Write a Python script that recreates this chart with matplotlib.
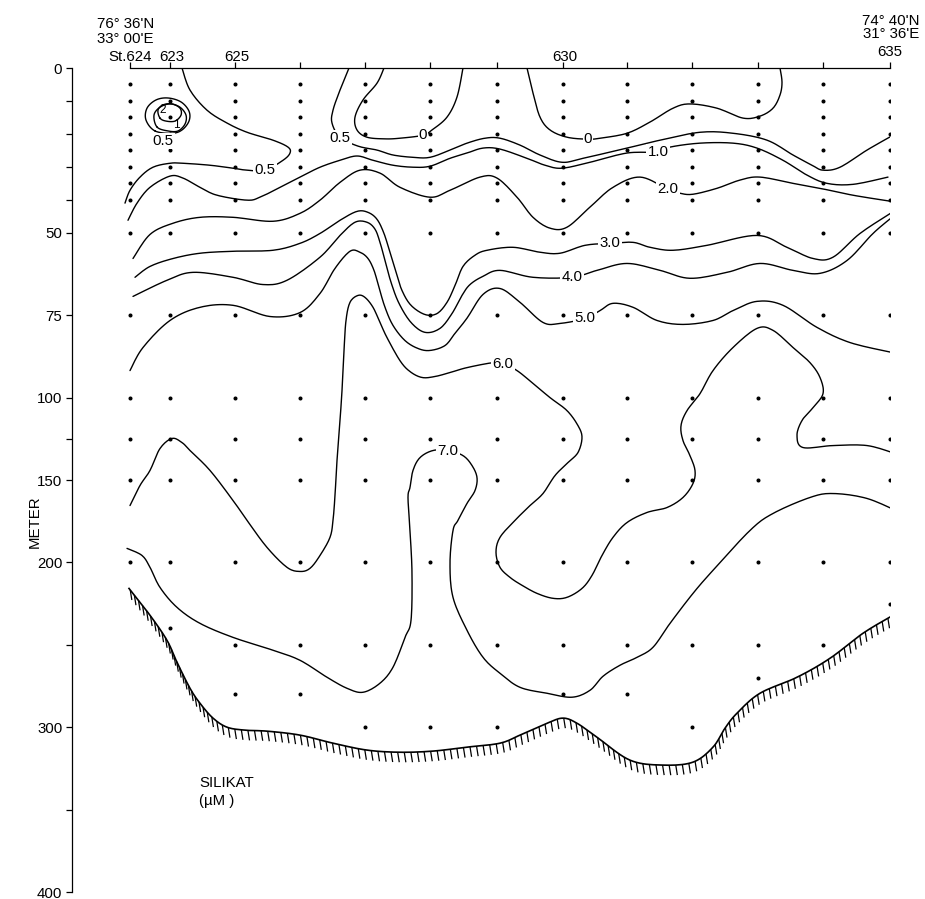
import numpy as np
import matplotlib
matplotlib.use("Agg")
import matplotlib.pyplot as plt
from matplotlib.collections import LineCollection
from matplotlib.transforms import blended_transform_factory

plt.rcParams["font.family"] = ["Liberation Sans", "DejaVu Sans"]
FS = 10.8

# ---------------------------------------------------------------- data
# stations along the section (west -> east) and their along-track distance
stations = ["624", "623", "625", "626", "627", "628", "629",
            "630", "631", "632", "633", "634", "635"]
station_dist = [0, 40, 105, 170, 235, 300, 367, 433, 497, 562, 628, 693, 760]

# sampling depths (m) common to every station, plus the deeper bottles
sample_depths = [5, 10, 15, 20, 25, 30, 35, 40, 50, 75, 100, 125, 150, 200]
deep_samples = {
    "624": [], "623": [240], "625": [250, 280], "626": [250, 280],
    "627": [250, 300], "628": [250, 300], "629": [250, 300],
    "630": [250, 280], "631": [250, 280], "632": [250, 300],
    "633": [250, 270], "634": [250], "635": [225],
}

# sea floor
bottom_dist = [-1, 20, 37, 47, 60, 70, 83, 97, 115, 137, 170, 203, 237, 270,
               303, 337, 370, 390, 417, 433, 447, 467, 500, 533, 563, 583,
               595, 607, 630, 667, 700, 733, 763]
bottom_depth = [215.8, 232.1, 247.3, 260.6, 276.4, 285.5, 294.5, 300.0, 301.8,
                302.4, 304.8, 309.7, 313.9, 315.2, 314.5, 312.1, 309.7, 304.8,
                297.6, 294.5, 297.6, 306.1, 320.0, 323.0, 321.2, 312.1, 300.6,
                291.5, 279.4, 269.7, 258.2, 243.0, 232.1]

# silicate isolines (uM): (distance, depth) pairs
iso_0_west = [(254, 0), (247, 4.6), (233, 9.7), (225, 14.9), (227, 18.8),
              (237, 21.0), (255, 21.5), (270, 21.3), (293, 20.4), (302, 18.8),
              (317, 14.9), (327, 8.8), (333, 0)]
iso_0_east = [(397, 0), (403, 7.6), (410, 14.9), (420, 18.8), (437, 21.0),
              (458, 21.6), (470, 21.3), (497, 19.8), (520, 16.4), (543, 12.2),
              (560, 10.9), (587, 12.2), (613, 15.2), (630, 14.6), (643, 12.2),
              (650, 8.2), (652, 4.3), (650, 0)]
iso_05_west = [(52, 0), (60, 6.7), (77, 12.8), (97, 16.7), (117, 19.5),
               (143, 21.9), (158, 24.0), (160, 25.8), (153, 28.0), (135, 31.0),
               (117, 31.0), (103, 30.4), (80, 29.5), (53, 28.9), (40, 28.9),
               (23, 30.1), (10, 33.1), (0, 37.1), (-5, 41.0)]
iso_05_east = [(219, 0), (210, 6.7), (203, 12.8), (202, 16.7), (210, 21.0),
               (228, 23.7), (247, 24.9), (263, 26.4), (283, 27.1), (300, 27.1),
               (320, 24.9), (337, 22.8), (355, 21.3), (370, 21.3), (390, 23.4),
               (410, 26.4), (432, 28.6), (453, 27.4), (497, 24.3), (530, 21.9),
               (570, 19.5), (603, 19.8), (637, 21.9), (663, 26.4), (682, 29.5),
               (693, 31.0), (710, 30.1), (737, 24.9), (763, 20.4)]
iso_05_patch = [(25, 19.1), (16, 15.8), (17, 12.2), (26, 9.7), (38, 9.1),
                (51, 10.3), (59, 13.1), (59, 16.1), (52, 18.8), (42, 19.8)]
iso_1_patch = [(27, 17.9), (24, 14.3), (30, 11.9), (40, 10.9), (50, 11.9),
               (56, 14.3), (55, 17.0), (48, 19.1), (38, 19.1)]
iso_2_patch = [(30, 15.2), (28, 12.8), (33, 11.2), (42, 10.9), (50, 12.2),
               (51, 14.3), (45, 16.1), (36, 16.1)]
iso_1 = [(-2, 46.2), (7, 41.0), (20, 36.2), (40, 32.8), (53, 33.4), (70, 36.2),
         (87, 38.6), (117, 40.1), (130, 39.2), (150, 36.2), (170, 33.1),
         (190, 30.1), (210, 28.0), (227, 26.7), (243, 28.0), (263, 29.5),
         (283, 30.1), (300, 29.8), (320, 27.4), (337, 25.8), (353, 24.3),
         (370, 24.6), (397, 27.4), (415, 29.5), (432, 30.4), (460, 28.6),
         (497, 25.8), (528, 25.5), (540, 24.0), (570, 22.8), (603, 22.8),
         (627, 24.3), (653, 28.0), (677, 32.5), (697, 35.0), (723, 35.3),
         (758, 33.1)]
iso_2 = [(3, 57.8), (20, 50.5), (43, 47.1), (70, 45.3), (103, 45.3),
         (143, 46.5), (170, 44.1), (190, 40.1), (210, 34.7), (230, 31.0),
         (250, 31.9), (270, 36.2), (300, 39.2), (320, 37.1), (350, 33.1),
         (367, 33.4), (387, 39.2), (403, 45.3), (420, 48.6), (437, 48.3),
         (460, 42.2), (483, 36.2), (510, 33.1), (538, 36.8), (550, 38.0),
         (563, 38.3), (587, 36.5), (610, 34.0), (630, 33.1), (663, 35.0),
         (690, 36.5), (723, 38.6), (760, 40.4)]
iso_3 = [(5, 63.5), (20, 60.2), (43, 57.8), (70, 56.2), (103, 55.6),
         (143, 55.3), (170, 53.2), (190, 50.2), (210, 46.2), (227, 43.5),
         (238, 43.8), (247, 45.9), (254, 50.2), (260, 56.0), (266, 62.0),
         (272, 67.5), (281, 72.0), (295, 74.8), (307, 74.5), (317, 71.1),
         (325, 66.0), (333, 60.2), (345, 56.8), (357, 55.3), (383, 54.4),
         (410, 55.9), (430, 56.2), (455, 53.8), (480, 53.2), (503, 52.9),
         (520, 54.4), (543, 55.3), (577, 53.8), (627, 50.8), (657, 54.4),
         (683, 57.8), (703, 57.4), (730, 50.2), (762, 43.8)]
iso_4 = [(3, 69.3), (37, 64.4), (63, 62.0), (103, 63.5), (133, 65.7),
         (157, 64.4), (190, 57.4), (210, 50.8), (225, 46.8), (237, 46.8),
         (245, 48.9), (250, 52.9), (255, 58.4), (261, 65.0), (269, 71.4),
         (281, 77.2), (295, 80.2), (310, 79.0), (322, 74.5), (332, 69.0),
         (340, 65.7), (353, 63.2), (370, 61.4), (403, 63.5), (442, 63.5),
         (467, 61.4), (497, 59.3), (530, 61.4), (560, 63.8), (597, 62.0),
         (630, 59.3), (663, 61.4), (690, 62.3), (717, 58.4), (743, 50.2),
         (762, 45.3)]
iso_5 = [(0, 91.8), (13, 84.8), (40, 76.6), (70, 72.6), (103, 72.0),
         (140, 75.4), (170, 74.2), (190, 68.4), (205, 60.8), (220, 55.6),
         (230, 55.9), (238, 57.8), (244, 61.4), (249, 66.6), (255, 72.6),
         (263, 78.1), (275, 82.7), (288, 85.1), (300, 85.7), (315, 84.2),
         (325, 80.5), (337, 75.9), (353, 68.7), (370, 66.9), (390, 71.1),
         (413, 77.2), (430, 77.5), (455, 76.0), (470, 73.6), (483, 71.4),
         (503, 72.6), (527, 76.6), (553, 77.8), (583, 76.6), (603, 73.6),
         (627, 70.8), (653, 72.0), (687, 78.7), (720, 83.3), (762, 86.3)]
iso_6 = [(0, 165.5), (10, 153.3), (20, 144.2), (30, 130.9), (42, 124.8),
         (52, 127.3), (60, 132.1), (80, 144.2), (103, 162.4), (117, 174.5),
         (137, 190.9), (157, 203.0), (170, 205.5), (180, 203.6), (190, 195.8),
         (200, 184.8), (203, 174.5), (205, 159.4), (207, 138.2), (210, 113.9),
         (212, 97.9), (214, 85.7), (216, 76.6), (220, 71.1), (228, 69.0),
         (235, 69.6), (243, 72.6), (250, 77.2), (257, 81.8), (270, 88.8),
         (280, 92.1), (292, 93.9), (305, 93.6), (320, 92.4), (337, 90.9),
         (363, 89.4), (373, 89.7), (387, 91.8), (403, 95.7), (420, 100.0),
         (437, 107.9), (448, 117.0), (452, 124.2), (448, 133.3), (438, 139.4),
         (425, 147.3), (413, 158.2), (400, 165.5), (385, 174.5), (370, 184.8),
         (366, 193.9), (370, 203.0), (380, 209.1), (392, 213.9), (407, 218.8),
         (423, 221.8), (437, 221.2), (452, 215.8), (462, 207.9), (472, 195.8),
         (483, 184.8), (497, 175.8), (517, 169.7), (537, 166.7), (553, 160.6),
         (563, 152.1), (565, 144.2), (560, 135.2), (553, 126.1), (551, 117.0),
         (557, 107.9), (570, 98.8), (583, 91.8), (603, 84.8), (627, 79.0),
         (643, 79.6), (663, 84.8), (680, 89.4), (690, 93.9), (693, 98.8),
         (683, 106.1), (672, 113.9), (667, 123.0), (673, 130.3), (703, 129.1),
         (737, 129.1), (765, 133.9)]
iso_7 = [(-3, 191.5), (12, 195.8), (20, 203.0), (30, 215.2), (47, 227.3),
         (70, 237.0), (103, 245.5), (143, 253.3), (170, 259.4), (197, 269.7),
         (217, 276.4), (233, 278.8), (250, 273.3), (263, 263.6), (275, 245.5),
         (281, 235.2), (282, 206.7), (280, 180.6), (278, 160.6), (280, 154.5),
         (283, 144.2), (290, 136.4), (303, 132.1), (318, 132.1), (333, 135.2),
         (342, 141.2), (347, 148.5), (345, 156.4), (337, 164.2), (328, 174.5),
         (323, 180.6), (320, 200.6), (323, 221.2), (337, 241.2), (353, 257.6),
         (370, 267.3), (390, 275.8), (417, 279.4), (442, 281.8), (460, 277.6),
         (473, 269.1), (490, 262.4), (507, 257.6), (523, 251.5), (540, 237.0),
         (563, 218.8), (583, 204.8), (620, 180.6), (643, 170.3), (680, 160.6),
         (703, 158.2), (737, 161.2), (770, 169.7)]

# (value, path, closed, label anchor)
isolines = [
    (0.0, iso_0_west, False, (293, 20.4)),
    (0.0, iso_0_east, False, (458, 21.6)),
    (0.5, iso_05_west, False, (135, 31.0)),
    (0.5, iso_05_east, False, (210, 21.3)),
    (0.5, iso_05_patch, True, (33, 22.2)),
    (1.0, iso_1_patch, True, None),
    (2.0, iso_2_patch, True, None),
    (1.0, iso_1, False, (528, 25.5)),
    (2.0, iso_2, False, (538, 36.8)),
    (3.0, iso_3, False, (480, 53.2)),
    (4.0, iso_4, False, (442, 63.5)),
    (5.0, iso_5, False, (455, 75.7)),
    (6.0, iso_6, False, (373, 89.7)),
    (7.0, iso_7, False, (318, 132.1)),
]

# ---------------------------------------------------------------- scale
def fwd(d):
    d = np.asarray(d, float)
    return np.where(d <= 100, d, 100 + (d - 100) / 2.0)


def inv(s):
    s = np.asarray(s, float)
    return np.where(s <= 100, s, 100 + (s - 100) * 2.0)


W, H = 925, 899
fig = plt.figure(figsize=(W / 100, H / 100), dpi=100)
ax_l, ax_r, ax_t, ax_b = 72, 890, 68, 892
ax = fig.add_axes([ax_l / W, 1 - ax_b / H, (ax_r - ax_l) / W, (ax_b - ax_t) / H])
XMIN, XMAX = -58, 760
ax.set_xlim(XMIN, XMAX)
ax.set_yscale("function", functions=(fwd, inv))
ax.set_ylim(400, 0)

PX_X = (ax_r - ax_l) / (XMAX - XMIN)
PX_S = (ax_b - ax_t) / float(fwd(400))


def smooth_path(pts, closed=False, n=10):
    p = np.asarray(pts, float)
    P = np.column_stack([p[:, 0] * PX_X, fwd(p[:, 1]) * PX_S])
    if closed:
        P = np.vstack([P[-1], P, P[0], P[1]])
    else:
        P = np.vstack([P[0], P, P[-1]])
    t = np.linspace(0, 1, n, endpoint=False)[:, None]
    segs = []
    for i in range(1, len(P) - 2):
        p0, p1, p2, p3 = P[i - 1], P[i], P[i + 1], P[i + 2]
        segs.append(0.5 * (2 * p1 + (p2 - p0) * t
                           + (2 * p0 - 5 * p1 + 4 * p2 - p3) * t ** 2
                           + (3 * p1 - p0 - 3 * p2 + p3) * t ** 3))
    segs.append(P[-2][None, :])
    Q = np.vstack(segs)
    return Q[:, 0] / PX_X, inv(Q[:, 1] / PX_S)


LW = 1.0
# isolines
for value, path, closed, anchor in isolines:
    xs, ds = smooth_path(path, closed)
    ax.plot(xs, ds, color="black", lw=LW, solid_capstyle="round", zorder=3)
    if anchor is not None:
        txt = "0" if value == 0 else f"{value:.1f}"
        ax.text(anchor[0], anchor[1], txt, ha="center", va="center", fontsize=FS,
                zorder=5, bbox=dict(boxstyle="square,pad=0.08", fc="white", ec="none"))

# labels of the small closed high near station 623
ax.text(33, 12.8, "2", ha="center", va="center", fontsize=8.5, zorder=5)
ax.text(46, 17.3, "1", ha="center", va="center", fontsize=8.5, zorder=5)

# sea floor with hatching
bx, bd = smooth_path(list(zip(bottom_dist, bottom_depth)))
ax.plot(bx, bd, color="black", lw=1.2, zorder=3)
X = bx * PX_X
Y = fwd(bd) * PX_S
cum = np.concatenate([[0], np.cumsum(np.hypot(np.diff(X), np.diff(Y)))])
ss = np.arange(2, cum[-1], 6.6)
hx = np.interp(ss, cum, X)
hy = np.interp(ss, cum, Y)
hatch = []
for x0, y0 in zip(hx, hy):
    x1, y1 = x0 + 1.6, y0 + 10
    hatch.append([(x0 / PX_X, float(inv(y0 / PX_S))), (x1 / PX_X, float(inv(y1 / PX_S)))])
ax.add_collection(LineCollection(hatch, colors="black", linewidths=0.9, zorder=3))

# sampling points
for st, xd in zip(stations, station_dist):
    deps = sample_depths + deep_samples[st]
    ax.plot([xd] * len(deps), deps, linestyle="none", marker="o", ms=1.9,
            color="black", zorder=4)

# ---------------------------------------------------------------- axes
for side in ("right", "bottom"):
    ax.spines[side].set_visible(False)
ax.spines["top"].set_bounds(station_dist[0], station_dist[-1])
ax.spines["top"].set_linewidth(0.9)
ax.spines["left"].set_linewidth(0.9)

ax.xaxis.set_ticks_position("top")
ax.set_xticks(station_dist)
ax.set_xticklabels([])
ax.tick_params(axis="x", direction="out", length=4, width=0.9)

ax.set_yticks([0, 50, 75, 100, 150, 200, 300, 400])
ax.set_yticklabels(["0", "50", "75", "100", "150", "200", "300", "400"], fontsize=FS)
ax.set_yticks([10, 20, 30, 40, 125, 250, 350], minor=True)
ax.tick_params(axis="y", which="both", direction="out", length=4, width=0.9, pad=3)

tr = blended_transform_factory(ax.transData, ax.transAxes)
y_top = 1 + (ax_t - 61) / (ax_b - ax_t)
ax.text(station_dist[0] + 22, y_top, "St.624", ha="right", va="baseline", fontsize=FS, transform=tr)
for st in ("623", "625", "630"):
    ax.text(station_dist[stations.index(st)] + 2, y_top, st, ha="center",
            va="baseline", fontsize=FS, transform=tr)
ax.text(station_dist[-1], 1 + (ax_t - 56) / (ax_b - ax_t), "635", ha="center",
        va="baseline", fontsize=FS, transform=tr)


def ftext(x, y, s, **kw):
    fig.text(x / W, 1 - y / H, s, fontsize=FS, **kw)


ftext(97, 28, "76° 36'N", ha="left", va="baseline")
ftext(97, 43, "33° 00'E", ha="left", va="baseline")
ftext(920, 25, "74° 40'N", ha="right", va="baseline")
ftext(919, 38, "31° 36'E", ha="right", va="baseline")
ftext(35, 522, "METER", ha="center", va="center", rotation=90)
ftext(199, 787, "SILIKAT", ha="left", va="baseline")
ftext(199, 805, "(µM )", ha="left", va="baseline")

fig.savefig("out.png", dpi=100, facecolor="white")
